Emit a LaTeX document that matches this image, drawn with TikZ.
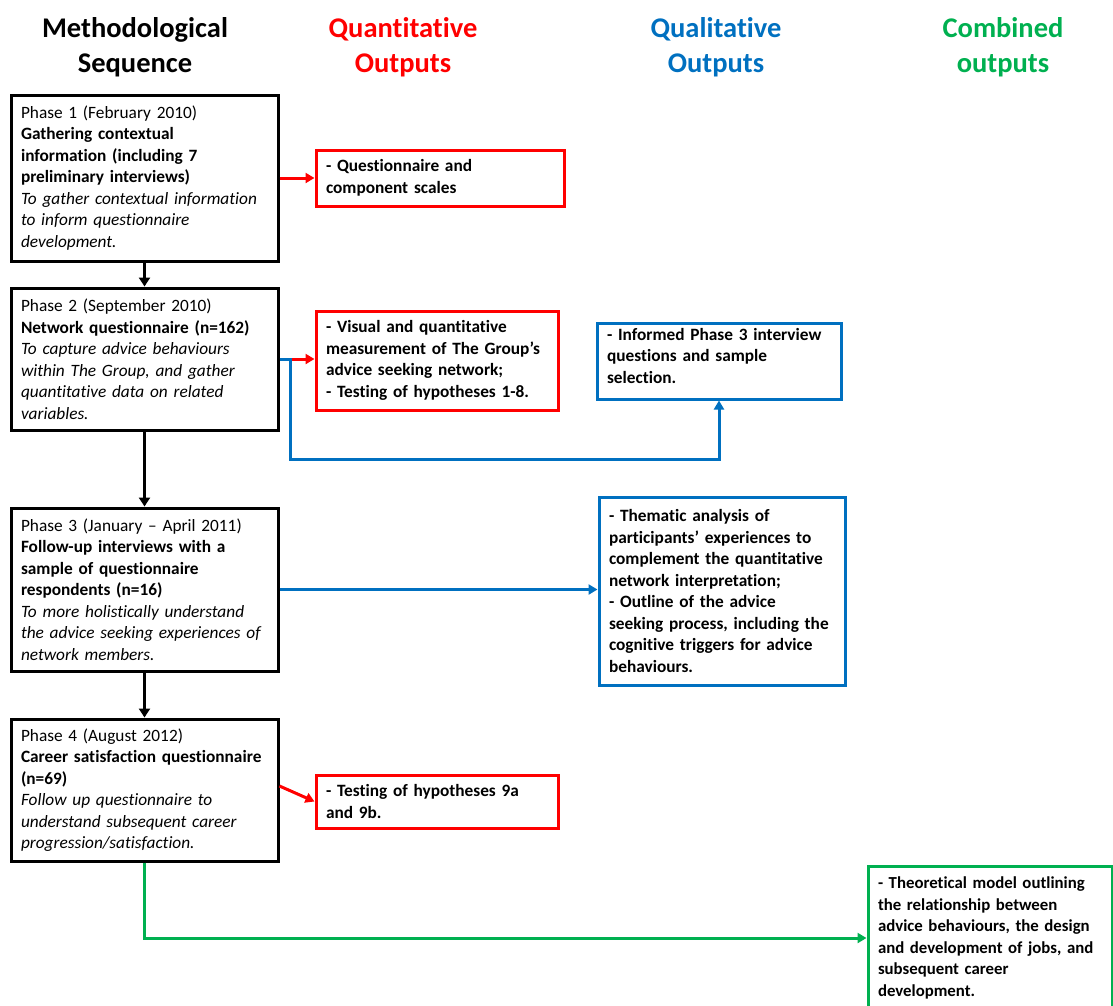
\documentclass[tikz,border=0pt]{standalone}
\usepackage{fontspec}
\setmainfont{Carlito}[Ligatures=NoCommon]
\usetikzlibrary{arrows.meta}
\definecolor{qred}{RGB}{255,0,0}
\definecolor{qblue}{RGB}{0,112,192}
\definecolor{qgreen}{RGB}{0,176,80}

\begin{document}
\begin{tikzpicture}[x=1pt,y=-1pt,
  box/.style={draw, line width=3pt, align=left, inner xsep=10pt, inner ysep=0pt,
    font=\fontsize{17.3}{21.5}\selectfont, anchor=center},
  phasebox/.style={box, draw=black, minimum width=267pt, text width=247pt},
  quantbox/.style={box, draw=qred, font=\fontsize{17.3}{21.5}\selectfont\bfseries},
  qualbox/.style={box, draw=qblue, font=\fontsize{17.3}{21.5}\selectfont\bfseries},
  combbox/.style={box, draw=qgreen, font=\fontsize{16.8}{21.5}\selectfont\bfseries},
  head/.style={align=center, inner sep=0pt, font=\fontsize{28.5}{35}\selectfont\bfseries},
  seq/.style={line width=3pt, draw=black, -{Triangle[length=9pt,width=11pt]}},
  link/.style={line width=3pt, -{Triangle[length=9pt,width=10pt]}}
]
\useasboundingbox (0,0) rectangle (1113,1005);

% column headings
\node[head, text=black]  (hseq)  at (135,47) {Methodological\\Sequence};
\node[head, text=qred]   (hquan) at (403,47) {Quantitative\\Outputs};
\node[head, text=qblue]  (hqual) at (716,47) {Qualitative\\Outputs};
\node[head, text=qgreen] (hcomb) at (1003,47) {Combined\\outputs};

% methodological sequence
\node[phasebox, minimum height=166pt] (ph1) at (144.5,178) {%
  Phase 1 (February 2010)\\
  \textbf{Gathering contextual}\\
  \textbf{information (including 7}\\
  \textbf{preliminary interviews)}\\
  \textit{To gather contextual information}\\
  \textit{to inform questionnaire}\\
  \textit{development.}};
\node[phasebox, minimum height=142pt] (ph2) at (144.5,359) {%
  Phase 2 (September 2010)\\
  \textbf{Network questionnaire (n=162)}\\
  \textit{To capture advice behaviours}\\
  \textit{within The Group, and gather}\\
  \textit{quantitative data on related}\\
  \textit{variables.}};
\node[phasebox, minimum height=163pt] (ph3) at (144.5,589.5) {%
  Phase 3 (January – April 2011)\\
  \textbf{Follow-up interviews with a}\\
  \textbf{sample of questionnaire}\\
  \textbf{respondents (n=16)}\\
  \textit{To more holistically understand}\\
  \textit{the advice seeking experiences of}\\
  \textit{network members.}};
\node[phasebox, minimum height=142pt] (ph4) at (144.5,790) {%
  Phase 4 (August 2012)\\
  \textbf{Career satisfaction questionnaire}\\
  \textbf{(n=69)}\\
  \textit{Follow up questionnaire to}\\
  \textit{understand subsequent career}\\
  \textit{progression/satisfaction.}};

% quantitative outputs
\node[quantbox, minimum width=248pt, text width=228pt, minimum height=56pt] (q1) at (440,178) {%
  - Questionnaire and\\component scales};
\node[quantbox, minimum width=242pt, text width=222pt, minimum height=99pt] (q2) at (437,360.5) {%
  - Visual and quantitative\\measurement of The Group’s\\advice seeking network;\\- Testing of hypotheses 1-8.};
\node[quantbox, minimum width=242pt, text width=222pt, minimum height=53pt] (q4) at (437,801.5) {%
  - Testing of hypotheses 9a\\and 9b.};

% qualitative outputs
\node[qualbox, minimum width=244pt, text width=224pt, minimum height=76pt] (b1) at (719,361) {%
  - Informed Phase 3 interview\\questions and sample\\selection.\\[-17pt]\strut};
\node[qualbox, minimum width=246pt, text width=226pt, minimum height=188pt] (b2) at (722,591) {%
  - Thematic analysis of\\participants’ experiences to\\complement the quantitative\\network interpretation;\\
  - Outline of the advice\\seeking process, including the\\cognitive triggers for advice\\behaviours.};

% combined outputs
\node[combbox, minimum width=244pt, text width=224pt, minimum height=144pt] (g) at (990,938) {%
  - Theoretical model outlining\\the relationship between\\advice behaviours, the design\\and development of jobs, and\\subsequent career\\development.};

% sequence arrows
\draw[seq] (ph1.south) -- (ph2.north);
\draw[seq] (ph2.south) -- (ph3.north);
\draw[seq] (ph3.south) -- (ph4.north);

% output connectors
\coordinate (split) at (290,359);
\draw[link, qred] (ph1.east) -- (q1.west);
\draw[link, qred] (split) -- (split -| q2.west);
\draw[link, qblue] (ph2.east) -- (split) -- (290,459) -| (b1.south);
\draw[link, qblue] (ph3.east) -- (ph3.east -| b2.west);
\draw[link, qred] ([yshift=4pt]ph4.east) -- (q4.west);
\draw[link, qgreen] (ph4.south) |- (g.west);
\end{tikzpicture}
\end{document}
